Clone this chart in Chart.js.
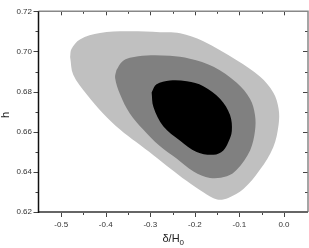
<!DOCTYPE html>
<html>
<head>
<meta charset="utf-8">
<script src="https://cdn.jsdelivr.net/npm/chart.js@4/dist/chart.umd.min.js"></script>
<style>
  html, body { margin: 0; padding: 0; background: #fff; }
  #wrap { width: 309px; height: 248px; }
</style>
</head>
<body>
<div id="wrap"><canvas id="grafico" width="309" height="248"></canvas></div>
<script>
// tick labels of both axes
const xTicks = [-0.5, -0.4, -0.3, -0.2, -0.1, 0.0];
const yTicks = [0.62, 0.64, 0.66, 0.68, 0.70, 0.72];
const xMinor = [-0.45, -0.35, -0.25, -0.15, -0.05];
const yMinor = [0.63, 0.65, 0.67, 0.69, 0.71];

// confidence regions, [delta/H0, h]
const outerRegion = [
  [-0.480, 0.6972], [-0.477, 0.7012], [-0.458, 0.7060], [-0.413, 0.7092],
  [-0.353, 0.7100], [-0.278, 0.7096], [-0.233, 0.7091], [-0.182, 0.7052],
  [-0.106, 0.6956], [-0.054, 0.6875], [-0.024, 0.6796], [-0.012, 0.6715],
  [-0.012, 0.6635], [-0.024, 0.6523], [-0.054, 0.6410], [-0.091, 0.6314],
  [-0.125, 0.6270], [-0.150, 0.6262], [-0.181, 0.6298], [-0.218, 0.6354],
  [-0.256, 0.6418], [-0.293, 0.6483], [-0.331, 0.6547], [-0.368, 0.6611],
  [-0.406, 0.6691], [-0.443, 0.6787], [-0.473, 0.6884]
];
const middleRegion = [
  [-0.376, 0.6908], [-0.364, 0.6948], [-0.346, 0.6968],
  [-0.308, 0.6980], [-0.256, 0.6978], [-0.211, 0.6964], [-0.158, 0.6924],
  [-0.106, 0.6844], [-0.076, 0.6763], [-0.065, 0.6683], [-0.065, 0.6603],
  [-0.076, 0.6507], [-0.106, 0.6410], [-0.128, 0.6378], [-0.166, 0.6370],
  [-0.203, 0.6402], [-0.241, 0.6466], [-0.280, 0.6531], [-0.316, 0.6611],
  [-0.346, 0.6691], [-0.368, 0.6787], [-0.379, 0.6868]
];
const innerRegion = [
  [-0.297, 0.6796], [-0.286, 0.6836], [-0.256, 0.6855], [-0.218, 0.6851],
  [-0.181, 0.6827], [-0.143, 0.6763], [-0.121, 0.6683], [-0.117, 0.6603],
  [-0.125, 0.6547], [-0.136, 0.6507], [-0.158, 0.6485], [-0.196, 0.6499],
  [-0.233, 0.6555], [-0.271, 0.6627], [-0.293, 0.6723]
];

function closed(pts) {
  const d = pts.map(p => ({ x: p[0], y: p[1] }));
  d.push({ x: pts[0][0], y: pts[0][1] });
  return d;
}

function region(pts, color) {
  return {
    data: closed(pts),
    showLine: true,
    fill: 'shape',
    backgroundColor: color,
    borderColor: color,
    borderWidth: 0,
    pointRadius: 0,
    tension: 0.35
  };
}

// eixos, ticks e titulos desenhados a mao
const frame = {
  id: 'frame',
  afterDraw(chart) {
    const { ctx, chartArea: a, scales: { x, y } } = chart;
    ctx.save();
    ctx.strokeStyle = '#444';
    ctx.lineWidth = 1;
    ctx.beginPath();
    xTicks.forEach(v => {
      const px = Math.round(x.getPixelForValue(v)) + 0.5;
      ctx.moveTo(px, a.bottom); ctx.lineTo(px, a.bottom + 5);
      ctx.moveTo(px, a.top); ctx.lineTo(px, a.top + 4);
    });
    xMinor.forEach(v => {
      const px = Math.round(x.getPixelForValue(v)) + 0.5;
      ctx.moveTo(px, a.bottom); ctx.lineTo(px, a.bottom + 3);
      ctx.moveTo(px, a.top); ctx.lineTo(px, a.top + 2.5);
    });
    yTicks.forEach(v => {
      const py = Math.round(y.getPixelForValue(v)) + 0.5;
      ctx.moveTo(a.left, py); ctx.lineTo(a.left - 5, py);
      ctx.moveTo(a.right, py); ctx.lineTo(a.right - 5, py);
    });
    yMinor.forEach(v => {
      const py = Math.round(y.getPixelForValue(v)) + 0.5;
      ctx.moveTo(a.left, py); ctx.lineTo(a.left - 3, py);
      ctx.moveTo(a.right, py); ctx.lineTo(a.right - 3, py);
    });
    ctx.stroke();

    // moldura
    ctx.lineWidth = 1.5;
    ctx.strokeStyle = '#888';
    ctx.beginPath();
    ctx.moveTo(a.left, a.top); ctx.lineTo(a.right, a.top); ctx.lineTo(a.right, a.bottom);
    ctx.stroke();
    ctx.strokeStyle = '#666';
    ctx.lineWidth = 2;
    ctx.beginPath();
    ctx.moveTo(a.left, a.bottom); ctx.lineTo(a.right, a.bottom);
    ctx.stroke();
    ctx.strokeStyle = '#111';
    ctx.lineWidth = 1.5;
    ctx.beginPath();
    ctx.moveTo(a.left, a.top); ctx.lineTo(a.left, a.bottom + 1);
    ctx.stroke();

    // titulos
    ctx.fillStyle = '#222';
    ctx.font = '11px "Liberation Sans", Arial, sans-serif';
    ctx.textBaseline = 'alphabetic';
    const cx = (a.left + a.right) / 2;
    const main = 'δ/H';
    const w = ctx.measureText(main).width;
    ctx.font = '8px "Liberation Sans", Arial, sans-serif';
    const ws = ctx.measureText('0').width;
    const start = cx - (w + ws) / 2;
    ctx.font = '11px "Liberation Sans", Arial, sans-serif';
    ctx.fillText(main, start, 242);
    ctx.font = '8px "Liberation Sans", Arial, sans-serif';
    ctx.fillText('0', start + w, 245);

    ctx.font = '11px "Liberation Sans", Arial, sans-serif';
    ctx.translate(9, 115);
    ctx.rotate(-Math.PI / 2);
    ctx.textAlign = 'center';
    ctx.fillText('h', 0, 0);
    ctx.restore();
  }
};

const grafico = document.getElementById('grafico').getContext('2d');
const myChart = new Chart(grafico, {
  type: 'scatter',
  data: {
    datasets: [
      region(innerRegion, '#000000'),
      region(middleRegion, '#808080'),
      region(outerRegion, '#c0c0c0')
    ]
  },
  options: {
    responsive: false,
    animation: false,
    devicePixelRatio: 1,
    layout: { padding: { left: 0, right: 1, top: 4, bottom: 0 } },
    plugins: { legend: { display: false }, tooltip: { enabled: false } },
    scales: {
      x: {
        type: 'linear',
        min: -0.551,
        max: 0.054,
        grid: { display: false, drawTicks: false },
        border: { display: false },
        afterBuildTicks: s => { s.ticks = xTicks.map(v => ({ value: v })); },
        afterFit: s => { s.height = 36; },
        ticks: {
          autoSkip: false,
          maxRotation: 0,
          padding: 8,
          color: '#333',
          font: { family: '"Liberation Sans", Arial, sans-serif', size: 8 },
          callback: v => Number(v).toFixed(1)
        }
      },
      y: {
        type: 'linear',
        min: 0.62,
        max: 0.72,
        grid: { display: false, drawTicks: false },
        border: { display: false },
        afterBuildTicks: s => { s.ticks = yTicks.map(v => ({ value: v })); },
        afterFit: s => { s.width = 38.5; },
        ticks: {
          autoSkip: false,
          padding: 6.5,
          color: '#333',
          font: { family: '"Liberation Sans", Arial, sans-serif', size: 8 },
          callback: v => Number(v).toFixed(2)
        }
      }
    }
  },
  plugins: [frame]
});
</script>
</body>
</html>
